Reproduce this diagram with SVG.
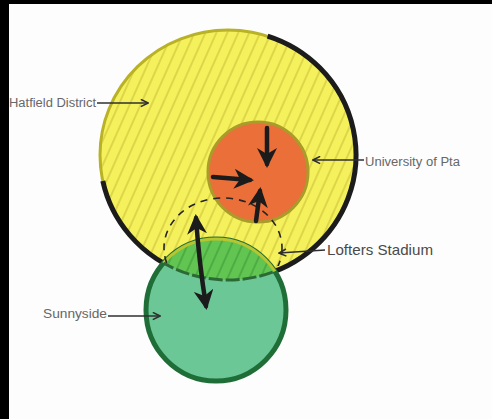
<svg xmlns="http://www.w3.org/2000/svg" width="492" height="419" viewBox="0 0 492 419">
<style>
.lbl{font-family:"Liberation Sans",Arial,sans-serif;fill:#676767}
.thin{fill:none;stroke:#2f2f2f;stroke-width:1.6;marker-end:url(#chev)}
.thick{fill:none;stroke:#1b1b1b;stroke-width:4.5;stroke-linecap:round;marker-end:url(#head)}
</style>
<defs>
<pattern id="hatchY" width="10" height="10" patternUnits="userSpaceOnUse" patternTransform="rotate(24)">
<line x1="1" y1="0" x2="1" y2="10" stroke="#cdc53c" stroke-width="1.2"/>
</pattern>
<pattern id="hatchG" width="10" height="10" patternUnits="userSpaceOnUse" patternTransform="rotate(24)">
<line x1="1" y1="0" x2="1" y2="10" stroke="#3e9e3a" stroke-width="1.2"/>
</pattern>
<clipPath id="clipY"><ellipse cx="228" cy="155" rx="128" ry="125"/></clipPath>
<clipPath id="clipG"><ellipse cx="216" cy="310" rx="70" ry="71"/></clipPath>
<clipPath id="clipTop"><rect x="0" y="0" width="492" height="266"/></clipPath>
<marker id="head" viewBox="0 0 10 10" refX="8" refY="5" markerWidth="20" markerHeight="20" markerUnits="userSpaceOnUse" orient="auto-start-reverse">
<path d="M0,0 L10,5 L0,10 L3,5 z" fill="#1b1b1b"/>
</marker>
<marker id="chev" viewBox="0 0 10 10" refX="9" refY="5" markerWidth="9" markerHeight="9" markerUnits="userSpaceOnUse" orient="auto">
<path d="M1,1 L9,5 L1,9" fill="none" stroke="#2f2f2f" stroke-width="1.8"/>
</marker>
</defs>
<rect width="492" height="419" fill="#fdfdfd"/>

<g id="hatfield">
<ellipse cx="228" cy="155" rx="128" ry="125" fill="#f5f15c"/>
<rect x="95" y="25" width="270" height="265" fill="url(#hatchY)" clip-path="url(#clipY)"/>
<ellipse cx="228" cy="155" rx="128" ry="125" fill="none" stroke="#b9b126" stroke-width="3"/>
<path d="M267.6,36.1 A128,125 0 1 1 102.8,181" fill="none" stroke="#1c1c1c" stroke-width="5"/>
<text class="lbl" x="9" y="107" font-size="12" textLength="87" lengthAdjust="spacingAndGlyphs">Hatfield District</text>
</g>

<g id="sunnyside">
<ellipse cx="216" cy="310" rx="70" ry="71" fill="#6cc796" stroke="#1f6d37" stroke-width="5"/>
<g clip-path="url(#clipY)">
<ellipse cx="216" cy="310" rx="70" ry="71" fill="#62c451"/>
<rect x="140" y="230" width="150" height="60" fill="url(#hatchG)" clip-path="url(#clipG)"/>
<ellipse cx="216" cy="310" rx="70" ry="71" fill="none" stroke="#b6c530" stroke-width="3"/>
</g>
<ellipse cx="228" cy="155" rx="128" ry="125" fill="none" stroke="#2b6a34" stroke-width="3" stroke-dasharray="14 3" clip-path="url(#clipG)"/>
<text class="lbl" x="43" y="318" font-size="13" textLength="64" lengthAdjust="spacingAndGlyphs">Sunnyside</text>
</g>

<g id="university">
<circle cx="258" cy="172" r="50" fill="#ea6f39" stroke="#aa9b2a" stroke-width="3"/>
<text class="lbl" x="365" y="166" font-size="12" textLength="95" lengthAdjust="spacingAndGlyphs">University of Pta</text>
</g>

<g id="lofters">
<ellipse cx="223" cy="248" rx="59" ry="50" fill="none" stroke="#252525" stroke-width="1.6" stroke-dasharray="7 6" clip-path="url(#clipTop)"/>
<text class="lbl" x="327" y="255" font-size="15" style="fill:#4a4a4a" textLength="106" lengthAdjust="spacingAndGlyphs">Lofters Stadium</text>
</g>

<g id="connectors">
<path class="thick" d="M267,128 L267,164"/>
<path class="thick" d="M213,177 L250,180"/>
<path class="thick" d="M256,221 L260,191"/>
<path class="thick" d="M196,218 Q199,262 206,306" marker-start="url(#head)"/>
<path class="thin" d="M97,103 L148,103"/>
<path class="thin" d="M364,160 L313,160"/>
<path class="thin" d="M325,250 L279,253"/>
<path class="thin" d="M108,316 L160,316"/>
</g>

<rect x="0" y="0" width="492" height="4" fill="#000"/>
<rect x="0" y="0" width="9" height="419" fill="#000"/>
</svg>
